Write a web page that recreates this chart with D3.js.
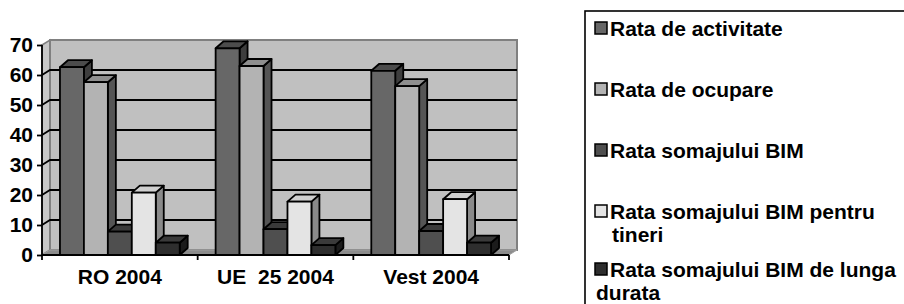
<!DOCTYPE html>
<html>
<head>
<meta charset="utf-8">
<script src="https://cdn.jsdelivr.net/npm/d3@7/dist/d3.min.js"></script>
<style>
    html, body { margin: 0; padding: 0; background: #fff; }
    svg { display: block; }
    text { font-family: "Liberation Sans", Arial, sans-serif; font-weight: bold; fill: #000; }
</style>
</head>
<body>
<div id="chart"></div>
<script>
var categories = ["RO 2004", "UE  25 2004", "Vest 2004"];
var seriesNames = [
    "Rata de activitate",
    "Rata de ocupare",
    "Rata somajului BIM",
    "Rata somajului BIM pentru tineri",
    "Rata somajului BIM de lunga durata"
];
// one array per series, values per category (RO, UE 25, Vest)
var rataActivitate = [62.6, 68.9, 61.4];
var rataOcupare = [57.6, 63.0, 56.3];
var rataSomaj = [7.8, 8.6, 8.0];
var rataSomajTineri = [20.8, 17.8, 18.6];
var rataSomajLunga = [4.1, 3.3, 4.1];
var yTicks = [0, 10, 20, 30, 40, 50, 60, 70];

var seriesValues = [rataActivitate, rataOcupare, rataSomaj, rataSomajTineri, rataSomajLunga];

// front / side / top shades for each series
var fills = [
    {front: "#676767", side: "#3e3e3e", top: "#4c4c4c"},
    {front: "#b3b3b3", side: "#555555", top: "#8f8f8f"},
    {front: "#4f4f4f", side: "#2f2f2f", top: "#3a3a3a"},
    {front: "#e4e4e4", side: "#8a8a8a", top: "#cfcfcf"},
    {front: "#2e2e2e", side: "#1b1b1b", top: "#3a3a3a"}
];
var swatchFills = ["#676767", "#b3b3b3", "#4f4f4f", "#e4e4e4", "#2e2e2e"];

var W = 904, H = 304;
var plot = {left: 42, right: 509, top: 45, bottom: 255};
var wall = {dx: 8, dy: -5};
var depth = {dx: 8, dy: -7};
var fontSize = "21px";

var svg = d3.select("#chart").append("svg")
    .attr("width", W)
    .attr("height", H);

var y = d3.scaleLinear().domain([0, 70]).range([plot.bottom, plot.top]);
var x0 = d3.scaleBand().domain(categories).range([plot.left, plot.right]).padding(0);
var x1 = d3.scaleBand().domain(d3.range(seriesNames.length))
    .range([0, x0.bandwidth()])
    .paddingInner(0)
    .paddingOuter(0.75);

function pts(arr) {
    return arr.map(function (p) { return p[0] + "," + p[1]; }).join(" ");
}

// side wall, back wall and floor
svg.append("polygon")
    .attr("points", pts([[plot.left, y(70)], [plot.left + wall.dx, y(70) + wall.dy],
        [plot.left + wall.dx, y(0) + wall.dy], [plot.left, y(0)]]))
    .attr("fill", "#c8c8c8").attr("stroke", "#808080").attr("stroke-width", 1.5);
svg.append("rect")
    .attr("x", plot.left + wall.dx)
    .attr("y", y(70) + wall.dy)
    .attr("width", plot.right - plot.left)
    .attr("height", y(0) - y(70))
    .attr("fill", "#c0c0c0").attr("stroke", "#808080").attr("stroke-width", 2);
svg.append("polygon")
    .attr("points", pts([[plot.left, y(0)], [plot.left + wall.dx, y(0) + wall.dy],
        [plot.right + wall.dx, y(0) + wall.dy], [plot.right, y(0)]]))
    .attr("fill", "#8c8c8c").attr("stroke", "#a0a0a0").attr("stroke-width", 1);

// gridlines
var grid = svg.append("g").attr("class", "grid");
yTicks.filter(function (t) { return t > 0 && t < 70; }).forEach(function (t) {
    grid.append("polyline")
        .attr("points", pts([[plot.left, y(t)], [plot.left + wall.dx, y(t) + wall.dy],
            [plot.right + wall.dx, y(t) + wall.dy]]))
        .attr("fill", "none").attr("stroke", "#000").attr("stroke-width", 1.8);
});

// 3d bars, drawn left to right so each bar covers the side of the previous one
var bars = svg.append("g").attr("class", "bars");
categories.forEach(function (cat, ci) {
    seriesValues.forEach(function (vals, si) {
        var xl = x0(cat) + x1(si);
        var xr = xl + x1.bandwidth();
        var yt = y(vals[ci]);
        var yb = y(0);
        var g = bars.append("g");
        g.append("polygon")
            .attr("points", pts([[xr, yt], [xr + depth.dx, yt + depth.dy],
                [xr + depth.dx, yb + depth.dy], [xr, yb]]))
            .attr("fill", fills[si].side);
        g.append("polygon")
            .attr("points", pts([[xl, yt], [xl + depth.dx, yt + depth.dy],
                [xr + depth.dx, yt + depth.dy], [xr, yt]]))
            .attr("fill", fills[si].top);
        g.append("rect")
            .attr("x", xl).attr("y", yt)
            .attr("width", xr - xl).attr("height", yb - yt)
            .attr("fill", fills[si].front);
        g.selectAll("*")
            .attr("stroke", "#000").attr("stroke-width", 1.8).attr("stroke-linejoin", "round");
    });
});

// axes
var yAxis = svg.append("g")
    .attr("transform", "translate(" + plot.left + ",0)")
    .call(d3.axisLeft(y).tickValues(yTicks).tickSize(5).tickPadding(4).tickFormat(d3.format("d")));
yAxis.select(".domain").attr("stroke", "#000").attr("stroke-width", 1.8)
    .attr("d", "M0," + y(70) + "V" + y(0));
yAxis.selectAll(".tick line").attr("stroke", "#000").attr("stroke-width", 1.8);
yAxis.selectAll(".tick text")
    .attr("font-size", fontSize)
    .attr("font-family", "'Liberation Sans', Arial, sans-serif")
    .attr("font-weight", "bold")
    .attr("fill", "#000");

var xAxis = svg.append("g")
    .attr("transform", "translate(0," + plot.bottom + ")");
xAxis.append("line")
    .attr("x1", plot.left).attr("x2", plot.right)
    .attr("stroke", "#000").attr("stroke-width", 1.8);
var bounds = categories.map(function (c) { return x0(c); }).concat([plot.right]);
xAxis.selectAll("line.tick").data(bounds).enter().append("line")
    .attr("class", "tick")
    .attr("x1", function (d) { return d; }).attr("x2", function (d) { return d; })
    .attr("y1", 0).attr("y2", 5)
    .attr("stroke", "#000").attr("stroke-width", 1.8);
xAxis.selectAll("text").data(categories).enter().append("text")
    .attr("x", function (d) { return x0(d) + x0.bandwidth() / 2; })
    .attr("y", 29)
    .attr("text-anchor", "middle")
    .attr("font-size", fontSize)
    .style("white-space", "pre")
    .text(function (d) { return d; });

// legend
var legend = svg.append("g").attr("class", "legend");
legend.append("rect")
    .attr("x", 585).attr("y", 11)
    .attr("width", 400).attr("height", 400)
    .attr("fill", "#fff").attr("stroke", "#000").attr("stroke-width", 1.6);

var legendBaselines = [36, 97, 158, 219, 277];
var swatchX = 595, textX = 610, wrapWidth = 300, lineStep = 23;

seriesNames.forEach(function (name, i) {
    var by = legendBaselines[i];
    legend.append("rect")
        .attr("x", swatchX).attr("y", by - 14)
        .attr("width", 12).attr("height", 12)
        .attr("fill", swatchFills[i]).attr("stroke", "#000").attr("stroke-width", 1.5);
    var words = name.split(" ");
    var lines = [];
    var line = [];
    var t = legend.append("text")
        .attr("x", textX).attr("y", by)
        .attr("font-size", fontSize);
    words.forEach(function (w) {
        line.push(w);
        t.text(line.join(" "));
        if (t.node().getComputedTextLength() > wrapWidth && line.length > 1) {
            line.pop();
            lines.push(line.join(" "));
            line = [w];
        }
    });
    lines.push(line.join(" "));
    t.text(lines[0]);
    var firstWidth = t.node().getComputedTextLength();
    for (var k = 1; k < lines.length; k++) {
        // long first lines push the continuation back under the swatch
        legend.append("text")
            .attr("x", firstWidth > 270 ? swatchX + 1 : textX + 2)
            .attr("y", by + lineStep * k)
            .attr("font-size", fontSize)
            .text(lines[k]);
    }
});
</script>
</body>
</html>
